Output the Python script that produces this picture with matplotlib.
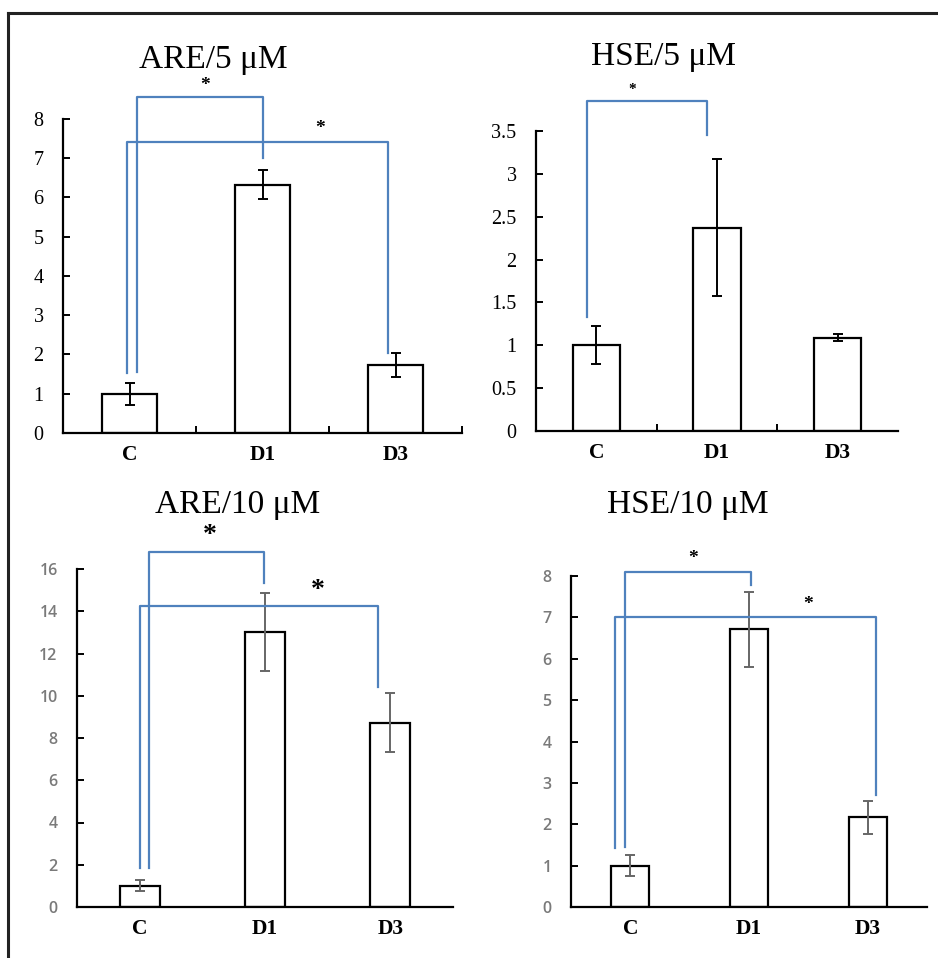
import matplotlib
matplotlib.use("Agg")
import matplotlib.pyplot as plt

W, H = 938, 958

categories = ["C", "D1", "D3"]

are5_mean = [1.0, 6.32, 1.73]
are5_err = [0.28, 0.37, 0.31]
hse5_mean = [1.0, 2.37, 1.09]
hse5_err = [0.22, 0.80, 0.04]
are10_mean = [1.0, 13.03, 8.72]
are10_err = [0.26, 1.85, 1.40]
hse10_mean = [1.0, 6.71, 2.17]
hse10_err = [0.25, 0.91, 0.40]

titles = ["ARE/5 \u03bcM", "HSE/5 \u03bcM", "ARE/10 \u03bcM", "HSE/10 \u03bcM"]

BLUE = "#4F81BD"
SERIF = ["Liberation Serif", "DejaVu Serif"]


def px_axes(fig, left, right, bottom, top):
    return fig.add_axes([left / W, 1 - bottom / H, (right - left) / W, (bottom - top) / H])


def draw_panel(ax, means, errs, ymax, step, width, err_color, serif_ticks, tick_fs, cat_ticks):
    x = list(range(len(categories)))
    ax.bar(x, means, width=width, color="white", edgecolor="black", linewidth=1.6, zorder=2)
    ax.errorbar(x, means, yerr=errs, fmt="none", ecolor=err_color, elinewidth=1.4,
                capsize=3.5, capthick=1.4, zorder=3)
    ax.set_xlim(-0.5, 2.5)
    ax.set_ylim(0, ymax)
    ticks = []
    v = 0.0
    while v <= ymax + 1e-9:
        ticks.append(v)
        v += step
    ax.set_yticks(ticks)
    ax.set_yticklabels([f"{t:g}" for t in ticks])
    ax.set_xticks(x)
    ax.set_xticklabels(categories, fontfamily=SERIF, fontweight="bold", fontsize=15.5)
    ax.tick_params(axis="x", length=0, pad=9)
    if cat_ticks:
        ax.set_xticks(cat_ticks, minor=True)
        ax.tick_params(axis="x", which="minor", direction="in", length=5, width=1.4)
    ax.tick_params(axis="y", direction="in", length=5, width=1.4, pad=14)
    for lab in ax.get_yticklabels():
        if serif_ticks:
            lab.set_fontfamily(SERIF)
            lab.set_fontsize(tick_fs)
            lab.set_color("black")
        else:
            lab.set_fontfamily(["Open Sans", "DejaVu Sans"])
            lab.set_fontsize(tick_fs)
            lab.set_color("#7a7a7a")
            lab.set_fontweight("semibold")
    ax.spines["top"].set_visible(False)
    ax.spines["right"].set_visible(False)
    ax.spines["left"].set_linewidth(1.6)
    ax.spines["bottom"].set_linewidth(1.6)


def bracket(ax, xl, xr, ytop, yl, yr, sx, sy, star_fs):
    ax.plot([xl, xl, xr, xr], [yl, ytop, ytop, yr], color=BLUE, lw=1.6,
            clip_on=False, zorder=4)
    ax.text(sx, sy, "*", ha="center", va="center", fontsize=star_fs,
            fontfamily=SERIF, fontweight="bold", clip_on=False)


fig = plt.figure(figsize=(W / 100, H / 100), dpi=100)

# frame lines (top and left edges of the original figure box)
fig.add_artist(plt.Line2D([8 / W, 1], [1 - 13 / H, 1 - 13 / H], color="#222222", lw=2.2))
fig.add_artist(plt.Line2D([8 / W, 8 / W], [0, 1 - 13 / H], color="#222222", lw=2.2))

ax1 = px_axes(fig, 63, 462, 433, 119)
draw_panel(ax1, are5_mean, are5_err, 8, 1, 0.41, "black", True, 14.5, [0.5, 1.5, 2.5])
bracket(ax1, 0.056, 1.0, 8.57, 1.56, 7.0, 0.57, 8.85, 14)
bracket(ax1, -0.02, 1.94, 7.42, 1.52, 2.04, 1.43, 7.75, 14)

ax2 = px_axes(fig, 536, 898, 431, 131)
draw_panel(ax2, hse5_mean, hse5_err, 3.5, 0.5, 0.39, "black", True, 14.5, [0.5, 1.5])
bracket(ax2, -0.08, 0.92, 3.85, 1.33, 3.45, 0.30, 3.98, 11)

ax3 = px_axes(fig, 77, 453, 907, 569)
draw_panel(ax3, are10_mean, are10_err, 16, 2, 0.32, "#666666", False, 11.5, None)
bracket(ax3, 0.075, 0.99, 16.8, 1.85, 15.35, 0.56, 17.6, 20)
bracket(ax3, 0.003, 1.90, 14.27, 1.85, 10.4, 1.42, 15.0, 20)

ax4 = px_axes(fig, 571, 927, 907, 576)
draw_panel(ax4, hse10_mean, hse10_err, 8, 1, 0.32, "#666666", False, 11.5, None)
bracket(ax4, -0.045, 1.02, 8.1, 1.45, 7.78, 0.53, 8.42, 14)
bracket(ax4, -0.13, 2.07, 7.0, 1.42, 2.7, 1.50, 7.32, 14)

title_pos = [(213, 60), (663, 57), (238, 505), (688, 505)]
for title, (tx, ty) in zip(titles, title_pos):
    fig.text(tx / W, 1 - ty / H, title, ha="center", va="center", fontsize=24,
             fontfamily=SERIF)

fig.savefig("out.png", dpi=100)
